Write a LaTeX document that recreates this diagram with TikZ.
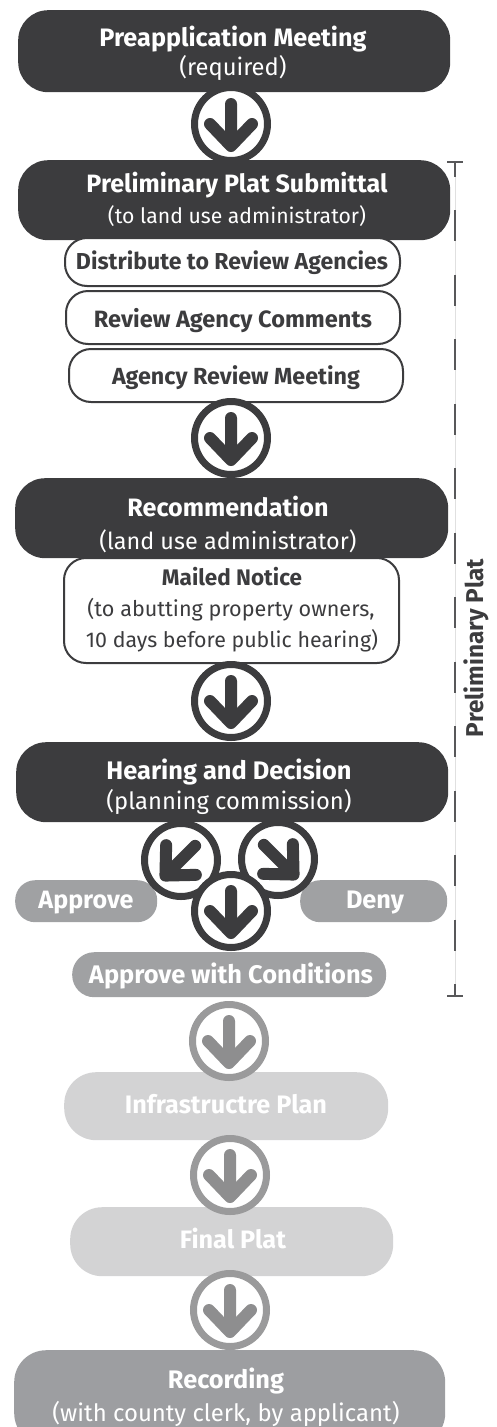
\documentclass[tikz,border=0pt]{standalone}
\usepackage{fontspec}
\setmainfont{Fira Sans}
\usepackage{graphicx}
\definecolor{darkc}{HTML}{3C3C3E}
\definecolor{dashc}{HTML}{58585A}
\definecolor{midg}{HTML}{A0A1A3}
\definecolor{lightg}{HTML}{D3D3D4}
\definecolor{recg}{HTML}{9D9EA1}
\definecolor{ringg}{HTML}{9A9A9B}
\definecolor{arrg}{HTML}{8E8E8F}
\newcommand\fw[2]{\resizebox{#1pt}{!}{#2}}
\tikzset{
  arrowglyph/.pic={\draw[line width=12pt,line cap=round,line join=round] (0,20)--(0,-20) (-21,0)--(0,-22)--(21,0);},
  boxbase/.style={rectangle, inner sep=0pt, anchor=north west},
  darkbox/.style={boxbase, fill=darkc, rounded corners=30pt},
  whitebox/.style={boxbase, fill=white, draw=darkc, line width=2pt, rounded corners=22pt},
  greybox/.style={boxbase, fill=midg, rounded corners=20pt},
  lightbox/.style={boxbase, fill=lightg, rounded corners=32pt},
  recbox/.style={boxbase, fill=recg, rounded corners=32pt},
  ring/.style={circle, draw=darkc, fill=white, line width=7pt, minimum size=73pt, inner sep=0pt},
  greyring/.style={ring, draw=ringg},
  wt/.style={anchor=base, inner sep=0pt, text=white, font=\bfseries},
  wr/.style={anchor=base, inner sep=0pt, text=white},
  dt/.style={anchor=base, inner sep=0pt, text=darkc, font=\bfseries},
  dr/.style={anchor=base, inner sep=0pt, text=darkc},
  tick/.style={draw=dashc, line width=2.5pt}
}
\begin{document}
\begin{tikzpicture}[x=1pt,y=1pt]
\useasboundingbox (0,0) rectangle (496,-1427);
\begin{scope}
\clip (0,0) rectangle (496,-1427);
% boxes
\node[darkbox, minimum width=432pt, minimum height=82pt] (pre) at (18,-10) {};
\node[darkbox, minimum width=432pt, minimum height=80pt] (pps) at (18,-160) {};
\node[whitebox, minimum width=335pt, minimum height=48pt] (dist) at (64,-237) {};
\node[whitebox, minimum width=334pt, minimum height=53pt] (rac) at (65,-290) {};
\node[whitebox, minimum width=334pt, minimum height=53pt] (arm) at (68,-348) {};
\node[darkbox, minimum width=433pt, minimum height=80pt] (rec) at (15,-478) {};
\node[whitebox, minimum width=335pt, minimum height=105pt] (mail) at (63,-557) {};
\node[darkbox, minimum width=432pt, minimum height=80pt] (hear) at (16,-742) {};
\node[greybox, minimum width=142pt, minimum height=42pt] (appr) at (15,-880) {};
\node[greybox, minimum width=147pt, minimum height=42pt] (deny) at (300,-880) {};
\node[greybox, minimum width=314pt, minimum height=45pt, rounded corners=22pt] (awc) at (72,-952) {};
\node[lightbox, minimum width=324pt, minimum height=68pt] (infra) at (64,-1072) {};
\node[lightbox, minimum width=323pt, minimum height=69pt] (final) at (70,-1207) {};
\node[recbox, minimum width=431pt, minimum height=95pt] (recd) at (14,-1350) {};
% texts
\node[wt] (preT) at (233,-46) {\fw{267}{Preapplication Meeting}};
\node[wr] (preS) at (233,-75) {\fw{107}{(required)}};
\node[wt] (ppsT) at (237,-192) {\fw{301}{Preliminary Plat Submittal}};
\node[wr] (ppsS) at (237,-223) {\fw{258}{(to land use administrator)}};
\node[dt] (distT) at (232,-269) {\fw{312}{Distribute to Review Agencies}};
\node[dt] (racT) at (233,-327) {\fw{278}{Review Agency Comments}};
\node[dt] (armT) at (236,-384) {\fw{248}{Agency Review Meeting}};
\node[wt] (recT) at (228,-516) {\fw{201}{Recommendation}};
\node[wr] (recS) at (228,-549) {\fw{257}{(land use administrator)}};
\node[dt] (mailT) at (232,-585) {\fw{140}{Mailed Notice}};
\node[dr] (mailS1) at (231,-616) {\fw{287}{(to abutting property owners,}};
\node[dr] (mailS2) at (232,-647) {\fw{292}{10 days before public hearing)}};
\node[wt] (hearT) at (229,-779) {\fw{245}{Hearing and Decision}};
\node[wr] (hearS) at (229,-809) {\fw{245}{(planning commission)}};
\node[wt] (apprT) at (86,-908) {\fw{95}{Approve}};
\node[wt] (denyT) at (375,-908) {\fw{58}{Deny}};
\node[wt] (awcT) at (231,-983) {\fw{284}{Approve with Conditions}};
\node[wt] (infraT) at (226,-1113) {\fw{202}{Infrastructre Plan}};
\node[wt] (finalT) at (233,-1248) {\fw{106}{Final Plat}};
\node[wt] (recdT) at (226,-1388) {\fw{116}{Recording}};
\node[wr] (recdS) at (226,-1421) {\fw{347}{(with county clerk, by applicant)}};
% arrow circles
\node[ring] (c1) at (231,-124) {};
\pic[color=darkc] at (c1.center) {arrowglyph};
\node[ring] (c2) at (231,-438) {};
\pic[color=darkc] at (c2.center) {arrowglyph};
\node[ring] (c3) at (231,-701) {};
\pic[color=darkc] at (c3.center) {arrowglyph};
\node[ring] (cl) at (181,-860) {};
\pic[color=darkc, rotate=-45] at (cl.center) {arrowglyph};
\node[ring] (cr) at (278,-859) {};
\pic[color=darkc, rotate=45] at (cr.center) {arrowglyph};
\node[ring] (cb) at (231,-911) {};
\pic[color=darkc] at (cb.center) {arrowglyph};
\node[greyring] (g1) at (229,-1041) {};
\pic[color=arrg] at (g1.center) {arrowglyph};
\node[greyring] (g2) at (230,-1175) {};
\pic[color=arrg] at (g2.center) {arrowglyph};
\node[greyring] (g3) at (230,-1310) {};
\pic[color=arrg] at (g3.center) {arrowglyph};
% bracket
\coordinate (bt) at (455,-162);
\coordinate (bb) at (455,-996);
\coordinate (btl) at (447,-162);
\coordinate (btr) at (463,-162);
\coordinate (bbl) at (447,-996);
\coordinate (bbr) at (463,-996);
\coordinate (bstem) at (455,-177);
\coordinate (bdash) at (455,-210);
\draw[black!12, line width=0.8pt] (bt) -- (bb);
\draw[tick] (btl) -- (btr);
\draw[tick] (bt) -- (bstem);
\draw[tick, dash pattern=on 31pt off 33.5pt] (bdash) -- (bb);
\draw[tick] (bbl) -- (bbr);
\node[dt, rotate=90] (lab) at (483,-648) {\fw{178}{Preliminary Plat}};
\end{scope}
\end{tikzpicture}
\end{document}
